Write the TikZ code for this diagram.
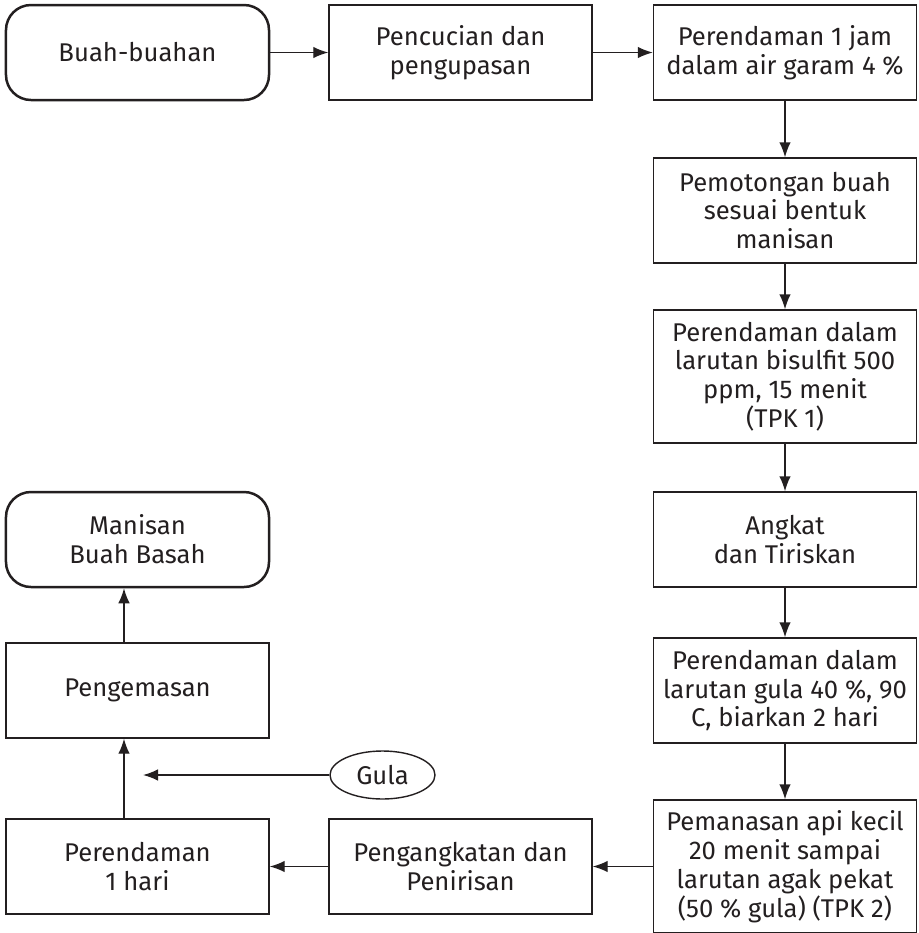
\documentclass[tikz,border=0pt]{standalone}
\usepackage{fontspec}
\setmainfont{Fira Sans}
\usepackage{tikz}
\usetikzlibrary{arrows.meta, shapes.geometric}
\definecolor{ink}{HTML}{231F20}

\begin{document}
\begin{tikzpicture}[x=0.2mm, y=-0.2mm,
    every node/.style={font=\fontsize{14.6}{16.4}\selectfont, text=ink, align=center},
    prosesbox/.style={draw=ink, line width=0.28mm, minimum width=52.6mm, minimum height=19mm, inner sep=0pt},
    ujungbox/.style={draw=ink, line width=0.5mm, rounded corners=5mm, minimum width=52.6mm, minimum height=19mm, inner sep=0pt},
    panah/.style={draw=ink, line width=0.28mm, -{Latex[length=3mm, width=2.3mm]}}]
  \useasboundingbox (0, 0) rectangle (919, 933);

  % baris atas
  \node[ujungbox] (buah) at (137.5, 52.5) {Buah-buahan};
  \node[prosesbox] (cuci) at (460.5, 52.5) {Pencucian dan\\pengupasan};
  \node[prosesbox] (garam) at (785, 52.5) {Perendaman 1 jam\\dalam air garam 4 \%};

  % kolom kanan
  \node[prosesbox, minimum height=21mm] (potong) at (785, 210.5) {Pemotongan buah\\sesuai bentuk\\manisan};
  \node[prosesbox, minimum height=26.6mm] (bisulfit) at (785, 376.5) {Perendaman dalam\\larutan bisulfit 500\\ppm, 15 menit\\(TPK 1)};
  \node[prosesbox] (angkat) at (785, 539.5) {Angkat\\dan Tiriskan};
  \node[prosesbox, minimum height=21mm] (gularendam) at (785, 690.5) {Perendaman dalam\\larutan gula 40 \%, 90\\C, biarkan 2 hari};
  \node[prosesbox, minimum height=26.6mm] (panas) at (785, 866.5) {Pemanasan api kecil\\20 menit sampai\\larutan agak pekat\\(50 \% gula) (TPK 2)};

  % baris bawah dan kolom kiri
  \node[prosesbox] (tiris) at (460.5, 866.5) {Pengangkatan dan\\Penirisan};
  \node[prosesbox] (harian) at (137.5, 866.5) {Perendaman\\1 hari};
  \node[prosesbox] (kemas) at (137.5, 690.5) {Pengemasan};
  \node[ujungbox] (manisan) at (137.5, 539.5) {Manisan\\Buah Basah};
  \node[draw=ink, line width=0.28mm, ellipse, minimum width=21mm, minimum height=9.6mm, inner sep=0pt] (gula) at (382.5, 775) {Gula};
  \coordinate (masuk) at (124, 775);

  \draw[panah] (buah) -- (cuci);
  \draw[panah] (cuci) -- (garam);
  \draw[panah] (garam) -- (potong);
  \draw[panah] (potong) -- (bisulfit);
  \draw[panah] (bisulfit) -- (angkat);
  \draw[panah] (angkat) -- (gularendam);
  \draw[panah] (gularendam) -- (panas);
  \draw[panah] (panas) -- (tiris);
  \draw[panah] (tiris) -- (harian);
  \draw[panah] (harian.north -| masuk) -- (kemas.south -| masuk);
  \draw[panah] (kemas.north -| masuk) -- (manisan.south -| masuk);
  \draw[panah] (gula) -- ([xshift=3.8mm]masuk);
\end{tikzpicture}
\end{document}
